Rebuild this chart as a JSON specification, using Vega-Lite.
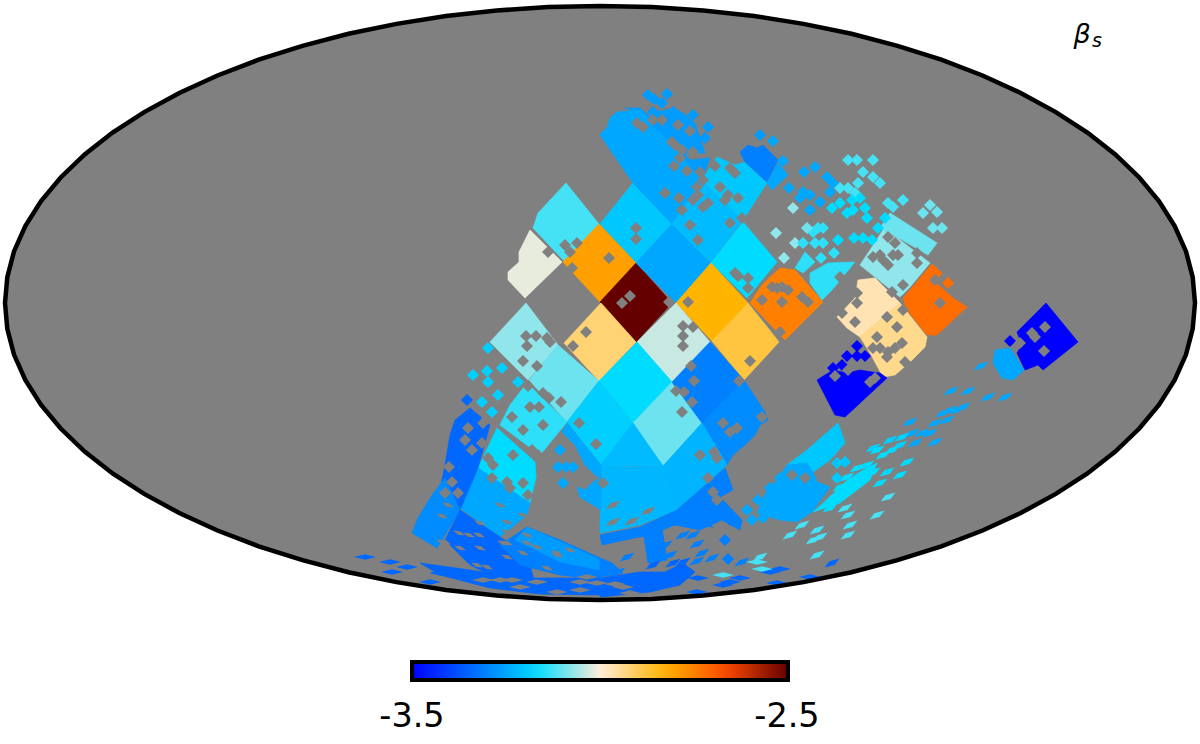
{
"$schema":"https://vega.github.io/schema/vega-lite/v6.json",
"width":1200,"height":744,"padding":0,"autosize":{"type":"none"},
"background":"white",
"config":{"view":{"stroke":null}},
"projection":{"type":"identity","reflectY":true,"scale":1,"translate":[600,303]},
"resolve":{"legend":{"color":"independent"}},
"datasets":{
"sky":[{"type":"Feature","name":"sky","geometry":{"type":"Polygon","coordinates":[[[595,0],[592.7,25.9],[586,51.6],[574.7,76.9],[559.1,101.6],[539.3,125.5],[515.3,148.5],[487.4,170.4],[455.8,190.9],[420.7,210],[382.5,227.5],[341.3,243.3],[297.5,257.2],[251.5,269.2],[203.5,279.1],[154,287],[103.3,292.5],[51.9,295.9],[0,297],[-51.9,295.9],[-103.3,292.5],[-154,287],[-203.5,279.1],[-251.5,269.2],[-297.5,257.2],[-341.3,243.3],[-382.5,227.5],[-420.7,210],[-455.8,190.9],[-487.4,170.4],[-515.3,148.5],[-539.3,125.5],[-559.1,101.6],[-574.7,76.9],[-586,51.6],[-592.7,25.9],[-595,0],[-592.7,-25.9],[-586,-51.6],[-574.7,-76.9],[-559.1,-101.6],[-539.3,-125.5],[-515.3,-148.5],[-487.4,-170.4],[-455.8,-190.9],[-420.7,-210],[-382.5,-227.5],[-341.3,-243.3],[-297.5,-257.2],[-251.5,-269.2],[-203.5,-279.1],[-154,-287],[-103.3,-292.5],[-51.9,-295.9],[0,-297],[51.9,-295.9],[103.3,-292.5],[154,-287],[203.5,-279.1],[251.5,-269.2],[297.5,-257.2],[341.3,-243.3],[382.5,-227.5],[420.7,-210],[455.8,-190.9],[487.4,-170.4],[515.3,-148.5],[539.3,-125.5],[559.1,-101.6],[574.7,-76.9],[586,-51.6],[592.7,-25.9],[595,0]]]}}],
"patches":[
{"type":"Feature","beta":-3.124,"geometry":{"type":"Polygon","coordinates":[[[-34,120],[-1,79],[-35,41],[-67,75],[-62,90],[-34,120]]]}},
{"type":"Feature","beta":-3.015,"geometry":{"type":"Polygon","coordinates":[[[-70,73],[-38,41],[-75,5],[-92,23],[-92,31],[-81,41],[-81,51],[-70,73]]]}},
{"type":"Feature","beta":-3.2,"geometry":{"type":"Polygon","coordinates":[[[33,120],[72,79],[36,40],[0,79],[33,120]]]}},
{"type":"Feature","beta":-2.8,"geometry":{"type":"Polygon","coordinates":[[[-1,79],[36,40],[0,1],[-37,41],[-1,79]]]}},
{"type":"Feature","beta":-2.5,"geometry":{"type":"Polygon","coordinates":[[[36,40],[72,0],[36,-39],[0,1],[36,40]]]}},
{"type":"Feature","beta":-3.25,"geometry":{"type":"Polygon","coordinates":[[[72,79],[111,40],[76,0],[36,40],[72,79]]]}},
{"type":"Feature","beta":-3.268,"geometry":{"type":"Polygon","coordinates":[[[50,190],[75,195],[95,180],[105,150],[85,150],[70,165],[50,190]]]}},
{"type":"Feature","beta":-3.268,"geometry":{"type":"Polygon","coordinates":[[[25,195],[40,195],[70,168],[90,143],[110,145],[102,123],[67,163],[40,190],[25,195]]]}},
{"type":"Feature","beta":-3.25,"geometry":{"type":"Polygon","coordinates":[[[0,168],[4,173],[7,175],[10,185],[17,191],[40,193],[67,163],[102,123],[72,79],[33,120],[0,168]]]}},
{"type":"Feature","beta":-3.22,"geometry":{"type":"Polygon","coordinates":[[[102,123],[143,83],[111,40],[72,79],[102,123]]]}},
{"type":"Feature","beta":-3.2,"geometry":{"type":"Polygon","coordinates":[[[117,146],[135,138],[145,141],[167,120],[143,83],[102,123],[117,146]]]}},
{"type":"Feature","beta":-3.31,"geometry":{"type":"Polygon","coordinates":[[[140,151],[148,158],[157,155],[163,158],[178,143],[167,121],[145,141],[140,151]]]}},
{"type":"Feature","beta":-3.25,"geometry":{"type":"Polygon","coordinates":[[[178,140],[188,128],[172,113],[167,120],[178,140]]]}},
{"type":"Feature","beta":-3.17,"geometry":{"type":"Polygon","coordinates":[[[143,81],[177,41],[147,5],[111,40],[143,81]]]}},
{"type":"Feature","beta":-2.83,"geometry":{"type":"Polygon","coordinates":[[[111,40],[148,0],[112,-38],[76,0],[111,40]]]}},
{"type":"Feature","beta":-2.88,"geometry":{"type":"Polygon","coordinates":[[[148,0],[179,-39],[144,-77],[112,-38],[148,0]]]}},
{"type":"Feature","beta":-3.037,"geometry":{"type":"Polygon","coordinates":[[[76,0],[110,-39],[72,-79],[37,-39],[76,0]]]}},
{"type":"Feature","beta":-2.92,"geometry":{"type":"Polygon","coordinates":[[[1,0],[36,-39],[-1,-78],[-36,-40],[1,0]]]}},
{"type":"Feature","beta":-3.074,"geometry":{"type":"Polygon","coordinates":[[[-74,0],[-42,-42],[-72,-77],[-110,-39],[-74,0]]]}},
{"type":"Feature","beta":-3.097,"geometry":{"type":"Polygon","coordinates":[[[-42,-42],[-1,-78],[-33,-119],[-71,-77],[-42,-42]]]}},
{"type":"Feature","beta":-3.17,"geometry":{"type":"Polygon","coordinates":[[[37,-39],[72,-79],[33,-120],[-1,-78],[37,-39]]]}},
{"type":"Feature","beta":-3.19,"geometry":{"type":"Polygon","coordinates":[[[-1,-78],[33,-120],[1,-162],[-33,-119],[-1,-78]]]}},
{"type":"Feature","beta":-3.097,"geometry":{"type":"Polygon","coordinates":[[[72,-79],[102,-120],[63,-163],[33,-120],[72,-79]]]}},
{"type":"Feature","beta":-3.31,"geometry":{"type":"Polygon","coordinates":[[[110,-39],[144,-77],[102,-120],[72,-79],[110,-39]]]}},
{"type":"Feature","beta":-3.29,"geometry":{"type":"Polygon","coordinates":[[[144,-77],[165,-109],[168,-117],[160,-122],[155,-132],[145,-142],[133,-152],[127,-162],[102,-120],[144,-77]]]}},
{"type":"Feature","beta":-3.22,"geometry":{"type":"Polygon","coordinates":[[[33,-120],[63,-163],[33,-163],[1,-165],[1,-162],[33,-120]]]}},
{"type":"Feature","beta":-3.23,"geometry":{"type":"Polygon","coordinates":[[[102,-120],[127,-162],[77,-207],[63,-163],[102,-120]]]}},
{"type":"Feature","beta":-3.225,"geometry":{"type":"Polygon","coordinates":[[[1,-165],[63,-163],[77,-207],[40,-222],[0,-230],[1,-165]]]}},
{"type":"Feature","beta":-3.31,"geometry":{"type":"Polygon","coordinates":[[[0,-232],[40,-224],[77,-207],[125,-165],[133,-187],[120,-194],[142,-217],[140,-227],[122,-217],[100,-227],[75,-222],[50,-232],[25,-237],[2,-242],[0,-232]]]}},
{"type":"Feature","beta":-3.25,"geometry":{"type":"Polygon","coordinates":[[[-33,-120],[1,-162],[1,-175],[-5,-172],[-15,-162],[-25,-142],[-38,-129],[-33,-120]]]}},
{"type":"Feature","beta":-3.25,"geometry":{"type":"Polygon","coordinates":[[[-23,-184],[-15,-187],[-7,-179],[1,-175],[1,-207],[-20,-194],[-23,-184]]]}},
{"type":"Feature","beta":-3.14,"geometry":{"type":"Polygon","coordinates":[[[-73,-80],[-33,-119],[-60,-152],[-100,-122],[-90,-102],[-73,-80]]]}},
{"type":"Feature","beta":-3.17,"geometry":{"type":"Polygon","coordinates":[[[-103,-125],[-65,-159],[-64,-174],[-70,-200],[-122,-165],[-103,-125]]]}},
{"type":"Feature","beta":-3.25,"geometry":{"type":"Polygon","coordinates":[[[-122,-165],[-70,-200],[-73,-212],[-100,-234],[-140,-205],[-122,-165]]]}},
{"type":"Feature","beta":-3.345,"geometry":{"type":"Polygon","coordinates":[[[-130,-105],[-110,-122],[-122,-165],[-140,-207],[-150,-197],[-160,-187],[-155,-162],[-150,-132],[-145,-117],[-130,-105]]]}},
{"type":"Feature","beta":-3.29,"geometry":{"type":"Polygon","coordinates":[[[-155,-175],[-140,-207],[-155,-232],[-163,-245],[-188,-230],[-182,-215],[-168,-192],[-155,-175]]]}},
{"type":"Feature","beta":-3.345,"geometry":{"type":"Polygon","coordinates":[[[-140,-207],[-100,-234],[-72,-252],[-65,-282],[-110,-272],[-130,-262],[-155,-237],[-140,-207]]]}},
{"type":"Feature","beta":-3.31,"geometry":{"type":"Polygon","coordinates":[[[-73,-224],[-40,-237],[0,-255],[0,-277],[-40,-272],[-80,-262],[-100,-242],[-73,-224]]]}},
{"type":"Feature","beta":-3.268,"geometry":{"type":"Polygon","coordinates":[[[-73,-224],[-10,-252],[0,-257],[0,-267],[-40,-259],[-85,-237],[-73,-224]]]}},
{"type":"Feature","beta":-3.345,"geometry":{"type":"Polygon","coordinates":[[[-180,-260],[-130,-267],[-80,-275],[0,-275],[0,-292],[-60,-291],[-110,-285],[-160,-272],[-180,-260]]]}},
{"type":"Feature","beta":-3.345,"geometry":{"type":"Polygon","coordinates":[[[0,-275],[40,-269],[65,-269],[83,-260],[95,-269],[80,-282],[50,-289],[0,-294],[0,-275]]]}},
{"type":"Feature","beta":-3.31,"geometry":{"type":"Polygon","coordinates":[[[43,-228],[62,-225],[67,-257],[48,-260],[43,-228]]]}},
{"type":"Feature","beta":-3.31,"geometry":{"type":"Polygon","coordinates":[[[0,-255],[12,-260],[23,-270],[0,-274],[0,-255]]]}},
{"type":"Feature","beta":-2.75,"geometry":{"type":"Polygon","coordinates":[[[180,35],[195,33],[223,1],[185,-37],[150,0],[162,18],[180,35]]]}},
{"type":"Feature","beta":-3.14,"geometry":{"type":"Polygon","coordinates":[[[210,30],[228,40],[255,41],[232,13],[222,3],[210,20],[210,30]]]}},
{"type":"Feature","beta":-3.14,"geometry":{"type":"Polygon","coordinates":[[[195,35],[205,51],[215,41],[203,30],[195,35]]]}},
{"type":"Feature","beta":-3.097,"geometry":{"type":"Polygon","coordinates":[[[290,90],[337,60],[328,48],[302,63],[280,75],[290,90]]]}},
{"type":"Feature","beta":-3.074,"geometry":{"type":"Polygon","coordinates":[[[283,73],[300,63],[330,40],[310,16],[300,6],[260,38],[270,53],[283,73]]]}},
{"type":"Feature","beta":-2.72,"geometry":{"type":"Polygon","coordinates":[[[332,39],[342,30],[335,21],[353,5],[367,-4],[337,-32],[327,-32],[307,-7],[303,5],[332,39]]]}},
{"type":"Feature","beta":-2.97,"geometry":{"type":"Polygon","coordinates":[[[258,23],[275,25],[300,0],[260,-34],[247,-25],[237,-14],[255,5],[258,23]]]}},
{"type":"Feature","beta":-2.94,"geometry":{"type":"Polygon","coordinates":[[[300,0],[327,-34],[325,-44],[310,-59],[295,-72],[283,-74],[270,-50],[260,-34],[300,0]]]}},
{"type":"Feature","beta":-3.5,"geometry":{"type":"Polygon","coordinates":[[[217,-77],[233,-67],[247,-70],[260,-67],[272,-69],[280,-70],[287,-75],[245,-114],[235,-112],[217,-77]]]}},
{"type":"Feature","beta":-3.5,"geometry":{"type":"Polygon","coordinates":[[[446,0],[478,-39],[443,-67],[438,-62],[425,-67],[417,-50],[422,-42],[417,-29],[446,0]]]}},
{"type":"Feature","beta":-3.25,"geometry":{"type":"Polygon","coordinates":[[[395,-47],[410,-45],[424,-67],[413,-77],[402,-75],[393,-60],[395,-47]]]}},
{"type":"Feature","beta":-3.2,"geometry":{"type":"Polygon","coordinates":[[[238,-120],[245,-140],[230,-157],[213,-169],[207,-160],[192,-164],[187,-162],[207,-147],[238,-120]]]}},
{"type":"Feature","beta":-3.25,"geometry":{"type":"Polygon","coordinates":[[[187,-162],[207,-160],[213,-169],[217,-179],[230,-184],[212,-209],[197,-219],[180,-217],[157,-210],[167,-187],[177,-177],[187,-162]]]}},
{"type":"Feature","beta":-3.17,"geometry":{"type":"Polygon","coordinates":[[[213,-209],[230,-194],[245,-179],[263,-167],[277,-160],[270,-177],[257,-187],[240,-200],[213,-209]]]}}
],
"cells":[
{"x":48,"y":208,"beta":-3.268,"k":"d"},{"x":54,"y":204,"beta":-3.268,"k":"d"},{"x":67,"y":209,"beta":-3.268,"k":"d"},{"x":53,"y":191,"beta":-3.268,"k":"d"},{"x":62,"y":200,"beta":-3.268,"k":"d"},{"x":73,"y":191,"beta":-3.268,"k":"d"},{"x":83,"y":185,"beta":-3.268,"k":"d"},{"x":93,"y":188,"beta":-3.268,"k":"d"},{"x":108,"y":176,"beta":-3.268,"k":"d"},{"x":105,"y":165,"beta":-3.268,"k":"d"},{"x":95,"y":163,"beta":-3.268,"k":"d"},{"x":87,"y":160,"beta":-3.268,"k":"d"},{"x":80,"y":163,"beta":-3.268,"k":"d"},{"x":67,"y":178,"beta":-3.268,"k":"d"},{"x":57,"y":178,"beta":-3.268,"k":"d"},{"x":160,"y":168,"beta":-3.268,"k":"d"},{"x":173,"y":162,"beta":-3.25,"k":"d"},{"x":183,"y":142,"beta":-3.25,"k":"d"},
{"x":248,"y":143,"beta":-3.124,"k":"d"},{"x":257,"y":143,"beta":-3.124,"k":"d"},{"x":273,"y":143,"beta":-3.124,"k":"d"},{"x":263,"y":131,"beta":-3.124,"k":"d"},{"x":273,"y":126,"beta":-3.124,"k":"d"},{"x":280,"y":120,"beta":-3.124,"k":"d"},{"x":258,"y":120,"beta":-3.124,"k":"d"},{"x":255,"y":110,"beta":-3.124,"k":"d"},{"x":240,"y":115,"beta":-3.124,"k":"d"},{"x":248,"y":115,"beta":-3.124,"k":"d"},{"x":288,"y":100,"beta":-3.124,"k":"d"},{"x":303,"y":103,"beta":-3.124,"k":"d"},{"x":293,"y":96,"beta":-3.124,"k":"d"},{"x":330,"y":98,"beta":-3.097,"k":"d"},{"x":337,"y":91,"beta":-3.097,"k":"d"},{"x":323,"y":90,"beta":-3.097,"k":"d"},{"x":333,"y":75,"beta":-3.097,"k":"d"},{"x":342,"y":75,"beta":-3.097,"k":"d"},
{"x":252,"y":103,"beta":-3.17,"k":"d"},{"x":260,"y":105,"beta":-3.17,"k":"d"},{"x":253,"y":93,"beta":-3.17,"k":"d"},{"x":240,"y":100,"beta":-3.17,"k":"d"},{"x":232,"y":95,"beta":-3.17,"k":"d"},{"x":247,"y":90,"beta":-3.17,"k":"d"},{"x":265,"y":95,"beta":-3.17,"k":"d"},{"x":267,"y":85,"beta":-3.17,"k":"d"},{"x":285,"y":85,"beta":-3.17,"k":"d"},{"x":278,"y":75,"beta":-3.17,"k":"d"},
{"x":215,"y":136,"beta":-3.25,"k":"d"},{"x":204,"y":131,"beta":-3.25,"k":"d"},{"x":227,"y":126,"beta":-3.25,"k":"d"},{"x":233,"y":120,"beta":-3.25,"k":"d"},{"x":230,"y":111,"beta":-3.25,"k":"d"},{"x":203,"y":111,"beta":-3.25,"k":"d"},{"x":200,"y":105,"beta":-3.25,"k":"d"},{"x":210,"y":108,"beta":-3.25,"k":"d"},{"x":220,"y":101,"beta":-3.25,"k":"d"},{"x":210,"y":93,"beta":-3.25,"k":"d"},{"x":193,"y":95,"beta":-3.074,"k":"d"},{"x":189,"y":115,"beta":-3.25,"k":"d"},
{"x":218,"y":75,"beta":-3.14,"k":"d"},{"x":223,"y":75,"beta":-3.14,"k":"d"},{"x":213,"y":71,"beta":-3.14,"k":"d"},{"x":207,"y":75,"beta":-3.097,"k":"d"},{"x":195,"y":60,"beta":-3.074,"k":"d"},{"x":203,"y":60,"beta":-3.14,"k":"d"},{"x":215,"y":60,"beta":-3.14,"k":"d"},{"x":223,"y":60,"beta":-3.14,"k":"d"},{"x":221,"y":45,"beta":-3.14,"k":"d"},{"x":234,"y":50,"beta":-3.14,"k":"d"},{"x":238,"y":63,"beta":-3.17,"k":"d"},{"x":254,"y":65,"beta":-3.17,"k":"d"},{"x":263,"y":65,"beta":-3.17,"k":"d"},{"x":272,"y":63,"beta":-3.17,"k":"d"},{"x":184,"y":45,"beta":-3.074,"k":"d"},{"x":176,"y":70,"beta":-3.074,"k":"d"},
{"x":348,"y":20,"beta":-2.72,"k":"d"},
{"x":257,"y":-43,"beta":-3.5,"k":"d"},{"x":247,"y":-53,"beta":-3.5,"k":"d"},{"x":257,"y":-53,"beta":-3.5,"k":"d"},{"x":265,"y":-53,"beta":-3.5,"k":"d"},{"x":233,"y":-65,"beta":-3.5,"k":"d"},{"x":242,"y":-62,"beta":-3.5,"k":"d"},{"x":410,"y":-38,"beta":-3.5,"k":"d"},
{"x":381,"y":-63,"beta":-3.25,"k":"r"},{"x":351,"y":-88,"beta":-3.25,"k":"r"},{"x":368,"y":-88,"beta":-3.25,"k":"r"},{"x":388,"y":-94,"beta":-3.25,"k":"r"},{"x":405,"y":-94,"beta":-3.25,"k":"r"},{"x":350,"y":-107,"beta":-3.25,"k":"r"},{"x":343,"y":-110,"beta":-3.25,"k":"r"},{"x":357,"y":-107,"beta":-3.25,"k":"r"},{"x":363,"y":-104,"beta":-3.25,"k":"r"},{"x":347,"y":-117,"beta":-3.25,"k":"r"},{"x":335,"y":-120,"beta":-3.25,"k":"r"},{"x":310,"y":-119,"beta":-3.25,"k":"r"},{"x":312,"y":-130,"beta":-3.25,"k":"r"},{"x":322,"y":-130,"beta":-3.25,"k":"r"},{"x":330,"y":-130,"beta":-3.25,"k":"r"},{"x":335,"y":-139,"beta":-3.25,"k":"r"},{"x":315,"y":-140,"beta":-3.25,"k":"r"},
{"x":290,"y":-137,"beta":-3.19,"k":"r"},{"x":302,"y":-134,"beta":-3.19,"k":"r"},{"x":300,"y":-142,"beta":-3.19,"k":"r"},{"x":273,"y":-145,"beta":-3.19,"k":"r"},{"x":277,"y":-147,"beta":-3.17,"k":"r"},{"x":292,"y":-147,"beta":-3.17,"k":"r"},{"x":307,"y":-159,"beta":-3.17,"k":"r"},{"x":283,"y":-152,"beta":-3.17,"k":"r"},{"x":257,"y":-165,"beta":-3.17,"k":"r"},{"x":267,"y":-162,"beta":-3.17,"k":"r"},{"x":247,"y":-174,"beta":-3.17,"k":"r"},{"x":260,"y":-180,"beta":-3.17,"k":"r"},{"x":240,"y":-184,"beta":-3.17,"k":"r"},{"x":248,"y":-189,"beta":-3.17,"k":"r"},{"x":273,"y":-169,"beta":-3.17,"k":"r"},{"x":287,"y":-169,"beta":-3.17,"k":"r"},{"x":300,"y":-172,"beta":-3.17,"k":"r"},{"x":280,"y":-180,"beta":-3.17,"k":"r"},{"x":288,"y":-194,"beta":-3.124,"k":"r"},{"x":277,"y":-212,"beta":-3.124,"k":"r"},{"x":233,"y":-194,"beta":-3.17,"k":"r"},{"x":245,"y":-205,"beta":-3.124,"k":"r"},{"x":230,"y":-205,"beta":-3.17,"k":"r"},{"x":248,"y":-212,"beta":-3.124,"k":"r"},{"x":250,"y":-222,"beta":-3.124,"k":"r"},{"x":202,"y":-222,"beta":-3.124,"k":"r"},{"x":217,"y":-227,"beta":-3.124,"k":"r"},{"x":190,"y":-232,"beta":-3.124,"k":"r"},{"x":220,"y":-234,"beta":-3.124,"k":"r"},{"x":213,"y":-237,"beta":-3.124,"k":"r"},{"x":248,"y":-232,"beta":-3.124,"k":"r"},{"x":160,"y":-254,"beta":-3.124,"k":"r"},{"x":217,"y":-252,"beta":-3.124,"k":"r"},
{"x":237,"y":-160,"beta":-3.2,"k":"d"},{"x":245,"y":-159,"beta":-3.2,"k":"d"},{"x":237,"y":-175,"beta":-3.2,"k":"d"},{"x":180,"y":-175,"beta":-3.25,"k":"d"},{"x":170,"y":-185,"beta":-3.25,"k":"d"},{"x":158,"y":-197,"beta":-3.25,"k":"d"},{"x":147,"y":-207,"beta":-3.25,"k":"d"},{"x":152,"y":-217,"beta":-3.25,"k":"d"},{"x":163,"y":-215,"beta":-3.25,"k":"d"},{"x":173,"y":-207,"beta":-3.25,"k":"d"},
{"x":123,"y":-205,"beta":-3.31,"k":"d"},{"x":130,"y":-217,"beta":-3.31,"k":"d"},{"x":108,"y":-222,"beta":-3.31,"k":"l"},{"x":93,"y":-232,"beta":-3.31,"k":"r"},{"x":83,"y":-232,"beta":-3.31,"k":"r"},{"x":97,"y":-241,"beta":-3.31,"k":"r"},{"x":125,"y":-237,"beta":-3.31,"k":"d"},{"x":65,"y":-242,"beta":-3.31,"k":"r"},{"x":53,"y":-244,"beta":-3.31,"k":"r"},{"x":70,"y":-252,"beta":-3.31,"k":"r"},{"x":102,"y":-250,"beta":-3.31,"k":"r"},{"x":112,"y":-255,"beta":-3.31,"k":"r"},{"x":128,"y":-256,"beta":-3.31,"k":"d"},{"x":142,"y":-259,"beta":-3.31,"k":"r"},{"x":97,"y":-258,"beta":-3.31,"k":"r"},{"x":27,"y":-254,"beta":-3.31,"k":"r"},{"x":18,"y":-269,"beta":-3.31,"k":"r"},
{"x":73,"y":-260,"beta":-3.345,"k":"r"},{"x":53,"y":-262,"beta":-3.345,"k":"r"},{"x":83,"y":-259,"beta":-3.345,"k":"r"},{"x":98,"y":-275,"beta":-3.345,"k":"f"},{"x":80,"y":-274,"beta":-3.345,"k":"f"},{"x":123,"y":-282,"beta":-3.345,"k":"f"},{"x":130,"y":-279,"beta":-3.345,"k":"f"},{"x":170,"y":-269,"beta":-3.345,"k":"f"},{"x":180,"y":-266,"beta":-3.345,"k":"f"},{"x":177,"y":-280,"beta":-3.345,"k":"f"},{"x":210,"y":-274,"beta":-3.345,"k":"f"},{"x":232,"y":-260,"beta":-3.345,"k":"r"},{"x":97,"y":-289,"beta":-3.345,"k":"f"},{"x":140,"y":-275,"beta":-3.345,"k":"f"},
{"x":157,"y":-259,"beta":-3.124,"k":"f"},{"x":162,"y":-266,"beta":-3.124,"k":"f"},{"x":123,"y":-272,"beta":-3.124,"k":"f"},
{"x":-235,"y":-254,"beta":-3.345,"k":"f"},{"x":-208,"y":-269,"beta":-3.345,"k":"f"},{"x":-210,"y":-259,"beta":-3.345,"k":"f"},{"x":-193,"y":-264,"beta":-3.345,"k":"f"},{"x":-160,"y":-270,"beta":-3.345,"k":"f"},{"x":-170,"y":-279,"beta":-3.345,"k":"f"},
{"x":-112,"y":-45,"beta":-3.19,"k":"d"},{"x":-98,"y":-65,"beta":-3.19,"k":"d"},{"x":-113,"y":-68,"beta":-3.19,"k":"d"},{"x":-127,"y":-72,"beta":-3.19,"k":"d"},{"x":-112,"y":-79,"beta":-3.19,"k":"d"},{"x":-82,"y":-79,"beta":-3.19,"k":"d"},{"x":-102,"y":-92,"beta":-3.19,"k":"d"},{"x":-118,"y":-99,"beta":-3.19,"k":"d"},{"x":-108,"y":-109,"beta":-3.19,"k":"d"},{"x":-133,"y":-97,"beta":-3.345,"k":"d"},{"x":-123,"y":-117,"beta":-3.345,"k":"d"},
{"x":-40,"y":-147,"beta":-3.25,"k":"d"},{"x":-42,"y":-164,"beta":-3.25,"k":"d"},{"x":-34,"y":-164,"beta":-3.25,"k":"d"},{"x":-27,"y":-164,"beta":-3.25,"k":"d"},{"x":-37,"y":-180,"beta":-3.25,"k":"d"}
],
"holes":[
{"x":36,"y":75,"k":"d"},{"x":36,"y":64,"k":"d"},{"x":9,"y":45,"k":"d"},{"x":-52,"y":51,"k":"d"},{"x":-35,"y":58,"k":"d"},{"x":-23,"y":60,"k":"d"},{"x":-30,"y":51,"k":"d"},{"x":-28,"y":35,"k":"d"},{"x":65,"y":110,"k":"d"},{"x":74,"y":137,"k":"d"},{"x":87,"y":132,"k":"d"},{"x":79,"y":105,"k":"d"},{"x":82,"y":93,"k":"d"},{"x":90,"y":78,"k":"d"},{"x":98,"y":63,"k":"d"},{"x":98,"y":108,"k":"d"},{"x":97,"y":116,"k":"d"},{"x":103,"y":96,"k":"d"},{"x":93,"y":103,"k":"d"},{"x":108,"y":100,"k":"d"},{"x":103,"y":123,"k":"d"},{"x":130,"y":80,"k":"d"},{"x":142,"y":85,"k":"d"},{"x":138,"y":105,"k":"d"},{"x":120,"y":116,"k":"d"},{"x":128,"y":108,"k":"d"},{"x":135,"y":130,"k":"d"},{"x":130,"y":135,"k":"d"},{"x":115,"y":137,"k":"d"},{"x":125,"y":103,"k":"d"},{"x":37,"y":180,"k":"d"},{"x":43,"y":176,"k":"d"},{"x":53,"y":183,"k":"d"},{"x":72,"y":161,"k":"d"},{"x":80,"y":145,"k":"d"},{"x":100,"y":131,"k":"d"},{"x":93,"y":151,"k":"d"},{"x":82,"y":153,"k":"d"},{"x":62,"y":183,"k":"d"},{"x":78,"y":178,"k":"d"},{"x":90,"y":172,"k":"d"},{"x":75,"y":158,"k":"d"},
{"x":135,"y":30,"k":"d"},{"x":138,"y":27,"k":"d"},{"x":148,"y":25,"k":"d"},{"x":148,"y":15,"k":"d"},{"x":22,"y":0,"k":"d"},{"x":30,"y":7,"k":"d"},{"x":69,"y":1,"k":"d"},{"x":88,"y":1,"k":"d"},{"x":-14,"y":-29,"k":"d"},{"x":-27,"y":-43,"k":"d"},
{"x":-74,"y":-33,"k":"d"},{"x":-64,"y":-33,"k":"d"},{"x":-73,"y":-43,"k":"d"},{"x":-53,"y":-35,"k":"d"},{"x":-50,"y":-39,"k":"d"},{"x":-77,"y":-58,"k":"d"},{"x":-63,"y":-63,"k":"d"},{"x":-72,"y":-83,"k":"d"},{"x":-57,"y":-90,"k":"d"},{"x":-51,"y":-95,"k":"d"},{"x":-39,"y":-99,"k":"d"},{"x":-70,"y":-104,"k":"d"},{"x":-61,"y":-104,"k":"d"},{"x":-57,"y":-122,"k":"d"},{"x":-77,"y":-127,"k":"d"},{"x":-21,"y":-120,"k":"d"},{"x":-4,"y":-141,"k":"d"},
{"x":83,"y":-23,"k":"d"},{"x":93,"y":-24,"k":"d"},{"x":83,"y":-33,"k":"d"},{"x":83,"y":-43,"k":"d"},{"x":150,"y":-58,"k":"d"},{"x":91,"y":-63,"k":"d"},{"x":94,"y":-78,"k":"d"},{"x":76,"y":-88,"k":"d"},{"x":84,"y":-89,"k":"d"},{"x":92,"y":-99,"k":"d"},{"x":82,"y":-109,"k":"d"},{"x":139,"y":-78,"k":"d"},{"x":123,"y":-120,"k":"d"},{"x":130,"y":-129,"k":"d"},{"x":137,"y":-125,"k":"d"},{"x":162,"y":-114,"k":"d"},{"x":100,"y":-152,"k":"d"},{"x":114,"y":-149,"k":"d"},{"x":117,"y":-155,"k":"d"},{"x":108,"y":-175,"k":"d"},{"x":13,"y":-202,"k":"r"},{"x":48,"y":-208,"k":"r"},{"x":3,"y":-180,"k":"d"},{"x":13,"y":-219,"k":"r"},{"x":32,"y":-218,"k":"r"},{"x":113,"y":-189,"k":"d"},{"x":117,"y":-197,"k":"d"},
{"x":-88,"y":-114,"k":"d"},{"x":-87,"y":-152,"k":"d"},{"x":-68,"y":-147,"k":"d"},{"x":-62,"y":-152,"k":"d"},{"x":-112,"y":-155,"k":"d"},{"x":-107,"y":-162,"k":"d"},{"x":-93,"y":-179,"k":"d"},{"x":-90,"y":-185,"k":"d"},{"x":-77,"y":-180,"k":"d"},{"x":-72,"y":-192,"k":"d"},{"x":-108,"y":-175,"k":"d"},{"x":-100,"y":-202,"k":"l"},{"x":-77,"y":-212,"k":"l"},{"x":-93,"y":-219,"k":"l"},{"x":-93,"y":-229,"k":"l"},{"x":-120,"y":-220,"k":"l"},{"x":-158,"y":-213,"k":"l"},{"x":-141,"y":-230,"k":"l"},{"x":-131,"y":-232,"k":"l"},{"x":-121,"y":-232,"k":"l"},{"x":-140,"y":-245,"k":"l"},{"x":-120,"y":-245,"k":"l"},{"x":-158,"y":-239,"k":"l"},{"x":-97,"y":-240,"k":"l"},{"x":-73,"y":-232,"k":"l"},{"x":-77,"y":-250,"k":"l"},{"x":-43,"y":-250,"k":"l"},{"x":-63,"y":-244,"k":"l"},{"x":-30,"y":-247,"k":"l"},
{"x":-132,"y":-125,"k":"d"},{"x":-117,"y":-120,"k":"d"},{"x":-128,"y":-147,"k":"d"},{"x":-118,"y":-140,"k":"d"},{"x":-135,"y":-137,"k":"d"},{"x":-151,"y":-164,"k":"d"},{"x":-148,"y":-179,"k":"d"},{"x":-142,"y":-190,"k":"d"},{"x":-155,"y":-190,"k":"d"},{"x":-152,"y":-202,"k":"l"},
{"x":293,"y":48,"k":"d"},{"x":298,"y":48,"k":"d"},{"x":273,"y":46,"k":"d"},{"x":317,"y":50,"k":"d"},{"x":317,"y":40,"k":"d"},{"x":292,"y":11,"k":"d"},{"x":303,"y":18,"k":"d"},{"x":288,"y":66,"k":"d"},{"x":295,"y":60,"k":"d"},{"x":280,"y":48,"k":"d"},{"x":283,"y":43,"k":"d"},{"x":288,"y":38,"k":"d"},{"x":240,"y":26,"k":"d"},
{"x":182,"y":1,"k":"d"},{"x":182,"y":16,"k":"d"},{"x":188,"y":13,"k":"d"},{"x":202,"y":6,"k":"d"},{"x":208,"y":1,"k":"d"},{"x":172,"y":16,"k":"d"},{"x":162,"y":3,"k":"d"},{"x":180,"y":-29,"k":"d"},{"x":177,"y":15,"k":"d"},{"x":335,"y":23,"k":"d"},{"x":340,"y":0,"k":"d"},
{"x":255,"y":-19,"k":"d"},{"x":287,"y":-14,"k":"d"},{"x":297,"y":-24,"k":"d"},{"x":277,"y":-34,"k":"d"},{"x":303,"y":-7,"k":"d"},{"x":257,"y":0,"k":"d"},{"x":257,"y":10,"k":"d"},{"x":242,"y":-10,"k":"d"},{"x":295,"y":-45,"k":"d"},{"x":288,"y":-49,"k":"d"},{"x":302,"y":-40,"k":"d"},{"x":280,"y":-45,"k":"d"},{"x":273,"y":-45,"k":"d"},{"x":287,"y":-54,"k":"d"},{"x":305,"y":-59,"k":"d"},
{"x":248,"y":-67,"k":"d"},{"x":235,"y":-73,"k":"d"},{"x":270,"y":-79,"k":"d"},{"x":275,"y":-75,"k":"d"},{"x":432,"y":-30,"k":"d"},{"x":435,"y":-34,"k":"d"},{"x":445,"y":-24,"k":"d"},{"x":444,"y":-48,"k":"d"},{"x":420,"y":-40,"k":"d"},{"x":205,"y":-175,"k":"d"},{"x":192,"y":-172,"k":"d"},
{"x":-100,"y":-277,"k":"f"},{"x":-88,"y":-277,"k":"f"},{"x":-63,"y":-279,"k":"f"},{"x":-80,"y":-284,"k":"f"},{"x":-43,"y":-289,"k":"f"},{"x":-20,"y":-279,"k":"f"},{"x":-20,"y":-287,"k":"f"},{"x":-53,"y":-265,"k":"l"},{"x":-93,"y":-254,"k":"l"},{"x":-43,"y":-252,"k":"l"},{"x":-155,"y":-239,"k":"l"},{"x":-113,"y":-264,"k":"l"},{"x":-123,"y":-262,"k":"l"},{"x":-133,"y":-262,"k":"l"},{"x":-93,"y":-240,"k":"l"},{"x":-73,"y":-240,"k":"l"},{"x":-117,"y":-277,"k":"f"},{"x":-13,"y":-274,"k":"f"},{"x":-3,"y":-280,"k":"f"},{"x":15,"y":-281,"k":"f"},{"x":30,"y":-290,"k":"f"},{"x":23,"y":-284,"k":"f"}
],
"title1":[{"x":482,"y":268,"label":"β"}],
"title2":[{"x":497,"y":262,"label":"s"}],
"ticks":[{"x":-188,"y":-414,"label":"-3.5"},{"x":187,"y":-414,"label":"-2.5"}]
},
"layer":[
{"data":{"name":"sky"},"mark":{"type":"geoshape","fill":"#808080","stroke":null}},
{"data":{"name":"patches"},"mark":{"type":"geoshape","strokeWidth":0.7},
 "encoding":{
  "color":{"field":"beta","type":"quantitative","scale":{"type":"linear","domain":[-3.5,-3.17,-3,-2.83,-2.67,-2.5],"range":["#0000ff","#00dcff","#ffedd9","#ffb400","#ff4b00","#640000"],"interpolate":"rgb"},
   "legend":{"type":"gradient","orient":"none","legendX":412,"legendY":662,"direction":"horizontal","title":null,"gradientLength":376,"gradientThickness":18,"gradientStrokeColor":"black","gradientStrokeWidth":4,"labelOpacity":0,"labelFontSize":1,"values":[-3.5,-2.5]}},
  "stroke":{"field":"beta","type":"quantitative","scale":{"type":"linear","domain":[-3.5,-3.17,-3,-2.83,-2.67,-2.5],"range":["#0000ff","#00dcff","#ffedd9","#ffb400","#ff4b00","#640000"],"interpolate":"rgb"},"legend":null}
 }},
{"data":{"name":"cells"},"mark":{"type":"point","filled":true,"opacity":1,"strokeWidth":0},
 "encoding":{
  "longitude":{"field":"x","type":"quantitative"},"latitude":{"field":"y","type":"quantitative"},
  "color":{"field":"beta","type":"quantitative","legend":null},
  "shape":{"field":"k","type":"nominal","legend":null,"scale":{"domain":["d","l","r","f"],"range":["diamond","M-1,-0.4L0.2,-0.3L1,0.4L-0.2,0.3Z","M-1,0.6L0.35,0.25L1,-0.6L-0.35,-0.25Z","M-1,0L0,-0.25L1,0L0,0.25Z"]}},
  "size":{"field":"k","type":"ordinal","legend":null,"scale":{"type":"ordinal","domain":["d","l","r","f"],"range":[144,144,225,484]}}
 }},
{"data":{"name":"holes"},"mark":{"type":"point","filled":true,"opacity":1,"strokeWidth":0,"color":"#808080"},
 "encoding":{
  "longitude":{"field":"x","type":"quantitative"},"latitude":{"field":"y","type":"quantitative"},
  "shape":{"field":"k","type":"nominal","legend":null,"scale":{"domain":["d","l","r","f"],"range":["diamond","M-1,-0.4L0.2,-0.3L1,0.4L-0.2,0.3Z","M-1,0.6L0.35,0.25L1,-0.6L-0.35,-0.25Z","M-1,0L0,-0.25L1,0L0,0.25Z"]}},
  "size":{"field":"k","type":"ordinal","legend":null,"scale":{"type":"ordinal","domain":["d","l","r","f"],"range":[144,144,225,484]}}
 }},
{"data":{"name":"sky"},"mark":{"type":"geoshape","fill":null,"stroke":"black","strokeWidth":4.5}},
{"data":{"name":"title1"},"mark":{"type":"text","font":"DejaVu Sans","fontStyle":"italic","fontSize":27,"color":"black"},
 "encoding":{"longitude":{"field":"x","type":"quantitative"},"latitude":{"field":"y","type":"quantitative"},"text":{"field":"label","type":"nominal"}}},
{"data":{"name":"title2"},"mark":{"type":"text","font":"DejaVu Sans","fontStyle":"italic","fontSize":19,"color":"black"},
 "encoding":{"longitude":{"field":"x","type":"quantitative"},"latitude":{"field":"y","type":"quantitative"},"text":{"field":"label","type":"nominal"}}},
{"data":{"name":"ticks"},"mark":{"type":"text","font":"DejaVu Sans","fontSize":33.5,"color":"black"},
 "encoding":{"longitude":{"field":"x","type":"quantitative"},"latitude":{"field":"y","type":"quantitative"},"text":{"field":"label","type":"nominal"}}}
]
}
